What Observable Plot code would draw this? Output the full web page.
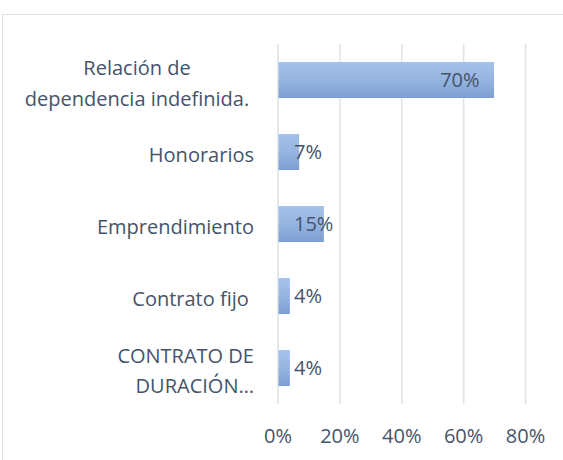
<!DOCTYPE html>
<html><head><meta charset="utf-8">
<script src="https://cdn.jsdelivr.net/npm/d3@7"></script>
<script src="https://cdn.jsdelivr.net/npm/@observablehq/plot@0.6"></script>
<style>
body{margin:0;background:#fff;}
#wrap{position:relative;width:563px;height:460px;overflow:hidden;}
#frame{position:absolute;left:2px;top:14px;width:620px;height:520px;border:1.5px solid #dde1e8;box-sizing:border-box;}
#chart{position:absolute;left:0;top:0;}
</style></head>
<body><div id="wrap"><div id="frame"></div><div id="chart"></div></div>
<script>
const categories = ["Relación de\ndependencia indefinida.", "Honorarios", "Emprendimiento", "Contrato fijo ", "CONTRATO DE\nDURACIÓN…"];
const values = [0.70, 0.07, 0.15, 0.04, 0.04];
const valueLabels = ["70%", "7%", "15%", "4%", "4%"];
const xTicks = [0, 0.2, 0.4, 0.6, 0.8];
const xTickLabels = ["0%", "20%", "40%", "60%", "80%"];

const data = categories.map((c, i) => ({cat: c, v: values[i], lab: valueLabels[i]}));
const big = data.filter(d => d.v >= 0.3);
const small = data.filter(d => d.v < 0.3);
const font = "Open Sans, sans-serif";
const txt = "#44546a";
const fs = 20;

const plot = Plot.plot({
  width: 563, height: 460,
  marginLeft: 277.5, marginRight: 38, marginTop: 44, marginBottom: 56,
  style: {fontFamily: font, fontSize: fs + "px", color: txt, background: "transparent"},
  x: {domain: [0, 0.8], axis: null},
  y: {domain: categories, paddingInner: 0.5, paddingOuter: 0.25, axis: null},
  marks: [
    Plot.ruleX(xTicks, {x: d => d, stroke: "#e0e3e9", strokeWidth: 1.6}),
    Plot.barX(data, {x: "v", y: "cat", fill: "url(#bargrad)", insetLeft: 1}),
    Plot.text(big, {x: "v", y: "cat", text: "lab", textAnchor: "end", dx: -15, fill: txt, fontSize: fs}),
    Plot.text(small, {x: 0, y: "cat", text: "lab", textAnchor: "start", dx: 16, fill: txt, fontSize: fs}),
    Plot.text(data.slice(1), {x: 0, y: "cat", text: "cat", textAnchor: "end", dx: -24, fill: txt, fontSize: fs, lineHeight: 1.5}),
    Plot.text(data.slice(0, 1), {x: 0, y: "cat", text: "cat", textAnchor: "middle", dx: -141, fill: txt, fontSize: fs, lineHeight: 1.55}),
    Plot.axisX(xTicks, {tickFormat: (d, i) => xTickLabels[i], tickSize: 0, tickPadding: 24, fill: txt, fontSize: fs, label: null})
  ]
});
const svg = d3.select(plot);
const g = svg.insert("defs", ":first-child").append("linearGradient")
  .attr("id", "bargrad").attr("x1", 0).attr("y1", 0).attr("x2", 0).attr("y2", 1);
g.append("stop").attr("offset", "0%").attr("stop-color", "#a5c2e8");
g.append("stop").attr("offset", "50%").attr("stop-color", "#95b4e0");
g.append("stop").attr("offset", "100%").attr("stop-color", "#7c9fd1");
document.getElementById("chart").appendChild(plot);
</script></body></html>
